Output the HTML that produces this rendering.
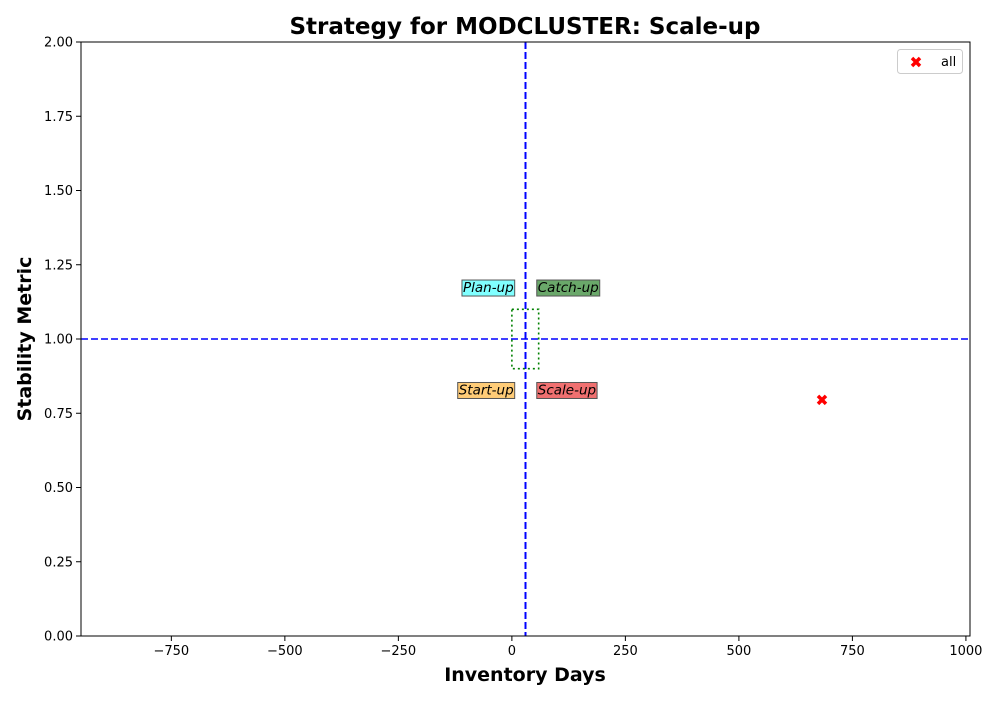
<!DOCTYPE html>
<html><head><meta charset="utf-8"><style>
body{margin:0;background:#fff}
text{font-family:"DejaVu Sans","Liberation Sans",sans-serif}
</style></head><body>
<svg id="chart" width="1000" height="700" xmlns="http://www.w3.org/2000/svg"></svg>
<script>
const xTicks=[-750,-500,-250,0,250,500,750,1000];
const yTicks=[0,0.25,0.5,0.75,1.0,1.25,1.5,1.75,2.0];
const pointsX=[683];
const pointsY=[0.795];
const vLine=[30];
const hLine=[1.0];
const boxRange=[0,59,0.9,1.1];
const quadLabels=["Plan-up","Catch-up","Start-up","Scale-up"];
const quadX=[4,57,4,57];
const quadY=[1.175,1.175,0.83,0.83];
const quadAnchor=["end","start","end","start"];
const quadColor=["#80ffff","#6aa86a","#ffcc77","#f07070"];

const L=81,R=970,T=42,B=636,xMin=-949,xMax=1009,yMin=0,yMax=2;
const sx=v=>L+(v-xMin)/(xMax-xMin)*(R-L);
const sy=v=>B-(v-yMin)/(yMax-yMin)*(B-T);
const svg=document.getElementById('chart');
const NS="http://www.w3.org/2000/svg";
function mk(tag,attrs,name,txt){const e=document.createElementNS(NS,tag);for(const k in attrs)e.setAttribute(k,attrs[k]);


if(txt!==undefined)e.textContent=txt;svg.appendChild(e);return e;}
mk('text',{x:525,y:34,'text-anchor':'middle','font-size':23,'font-weight':'bold'},'chart-title','Strategy for MODCLUSTER: Scale-up');
xTicks.forEach(v=>{const x=sx(v);mk('line',{x1:x,x2:x,y1:B,y2:B+5,stroke:'#000'},'x-tick');
mk('text',{x:x,y:B+19,'text-anchor':'middle','font-size':13},'x-tick-label',v<0?'\u2212'+(-v):String(v));});
yTicks.forEach(v=>{const y=sy(v);mk('line',{x1:L-5,x2:L,y1:y,y2:y,stroke:'#000'},'y-tick');
mk('text',{x:L-8,y:y+4.5,'text-anchor':'end','font-size':13},'y-tick-label',v.toFixed(2));});
mk('text',{x:525,y:681,'text-anchor':'middle','font-size':19,'font-weight':'bold'},'x-axis-title','Inventory Days');
mk('text',{x:31,y:339,'text-anchor':'middle','font-size':19,'font-weight':'bold',transform:'rotate(-90 31 339)'},'y-axis-title','Stability Metric');
vLine.forEach(v=>mk('line',{x1:sx(v),x2:sx(v),y1:T,y2:B,stroke:'#0000ff','stroke-width':2,'stroke-dasharray':'7,3'},'vertical-threshold-line'));
hLine.forEach(v=>mk('line',{x1:L,x2:R,y1:sy(v),y2:sy(v),stroke:'#0000ff','stroke-width':1.6,'stroke-dasharray':'7,3'},'horizontal-threshold-line'));
mk('rect',{x:sx(boxRange[0]),y:sy(boxRange[3]),width:sx(boxRange[1])-sx(boxRange[0]),height:sy(boxRange[2])-sy(boxRange[3]),fill:'none',stroke:'#008000','stroke-width':1.6,'stroke-dasharray':'2,3'},'target-box');
quadLabels.forEach((s,i)=>{const t=mk('text',{x:sx(quadX[i]),y:sy(quadY[i])+5,'text-anchor':quadAnchor[i],'font-size':13.5,'font-style':'italic'},'quadrant-label',s);
const b=t.getBBox();const r=mk('rect',{x:b.x-1,y:b.y,width:b.width+2,height:b.height,fill:quadColor[i],stroke:'#555','stroke-width':1},'quadrant-label-box');svg.insertBefore(r,t);});
pointsX.forEach((v,i)=>{const x=sx(v),y=sy(pointsY[i]);mk('path',{d:`M${x-4} ${y-4}L${x+4} ${y+4}M${x+4} ${y-4}L${x-4} ${y+4}`,stroke:'#ff0000','stroke-width':3.5},'data-point');});
mk('rect',{x:L,y:T,width:R-L,height:B-T,fill:'none',stroke:'#000','stroke-width':1},'plot-frame');
mk('rect',{x:897.5,y:49.5,width:65,height:24,rx:3,fill:'#fff',stroke:'#ccc'},'legend');
mk('path',{d:'M912 58L920 66M920 58L912 66',stroke:'#ff0000','stroke-width':3.5},'legend-marker');
mk('text',{x:941,y:66,'font-size':13},'legend-label','all');
</script>
</body></html>
